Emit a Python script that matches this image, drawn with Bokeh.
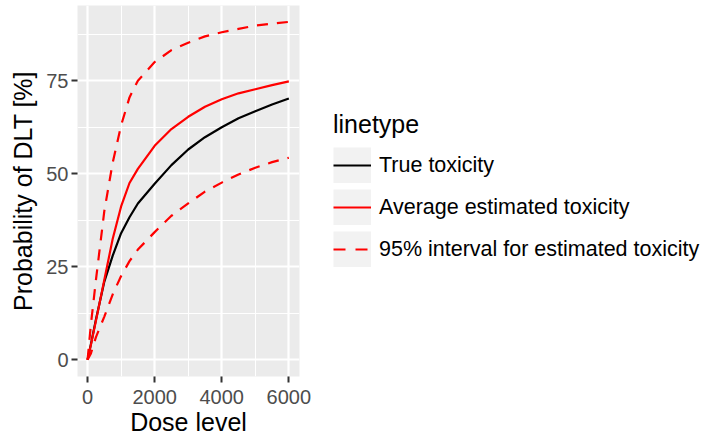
from bokeh.plotting import figure
from bokeh.layouts import row
from bokeh.models import (Legend, LegendItem, FixedTicker, ColumnDataSource, Range1d)
from bokeh.embed import file_html
from bokeh.resources import INLINE

dose = [0, 100, 250, 500, 750, 1000, 1250, 1500, 2000, 2500, 3000, 3500, 4000, 4500, 5000, 5500, 6000]
true_tox = [0, 4.2, 10.8, 21.0, 28.0, 34.0, 38.3, 42.0, 47.3, 52.3, 56.5, 59.8, 62.5, 64.9, 66.8, 68.6, 70.2]
avg_est = [0, 4.0, 10.5, 21.5, 32.5, 41.2, 47.5, 51.3, 57.5, 62.0, 65.3, 68.0, 70.0, 71.6, 72.7, 73.8, 74.8]
upper_95 = [0, 9.5, 21.5, 40.0, 53.0, 63.0, 70.5, 75.0, 80.0, 83.2, 85.2, 86.9, 88.0, 88.9, 89.8, 90.3, 90.8]
lower_95 = [0, 1.7, 6.1, 11.6, 17.6, 22.5, 26.5, 29.6, 34.3, 38.7, 42.0, 45.2, 47.6, 49.8, 51.6, 53.1, 54.3]

x_ticks = [0, 2000, 4000, 6000]
x_minor = [1000, 3000, 5000]
y_ticks = [0, 25, 50, 75]
y_minor = [12.5, 37.5, 62.5, 87.5]

legend_title = "linetype"
labels = ["True toxicity", "Average estimated toxicity", "95% interval for estimated toxicity"]

FONT = "Liberation Sans"
H = 438

p = figure(width=319, height=H, output_backend="svg", toolbar_location=None,
           x_range=Range1d(-300, 6318), y_range=Range1d(-4.5, 95.2),
           min_border_left=77, min_border_right=20, min_border_top=5, min_border_bottom=H - 376)

p.border_fill_color = "white"
p.outline_line_color = None
p.background_fill_color = "#EBEBEB"

p.xaxis.ticker = FixedTicker(ticks=x_ticks, minor_ticks=x_minor)
p.yaxis.ticker = FixedTicker(ticks=y_ticks, minor_ticks=y_minor)

for g in (p.xgrid[0], p.ygrid[0]):
    g.grid_line_color = "white"
    g.grid_line_width = 2.2
    g.minor_grid_line_color = "white"
    g.minor_grid_line_width = 1.1

for ax in (p.xaxis[0], p.yaxis[0]):
    ax.axis_line_color = None
    ax.major_tick_line_color = "#333333"
    ax.major_tick_line_width = 2
    ax.major_tick_out = 6
    ax.major_tick_in = 0
    ax.minor_tick_line_color = None
    ax.major_label_text_font = FONT
    ax.major_label_text_font_size = "20px"
    ax.major_label_text_color = "#4D4D4D"
    ax.axis_label_text_font = FONT
    ax.axis_label_text_font_size = "25px"
    ax.axis_label_text_font_style = "normal"
    ax.axis_label_text_color = "black"

p.xaxis.major_label_standoff = 7
p.yaxis.major_label_standoff = 3
p.xaxis.axis_label = "Dose level"
p.yaxis.axis_label = "Probability of DLT [%]"
p.xaxis.axis_label_standoff = 1
p.yaxis.axis_label_standoff = 6

src = ColumnDataSource(dict(dose=dose, true_tox=true_tox, avg_est=avg_est,
                            upper_95=upper_95, lower_95=lower_95))

p.line("dose", "true_tox", source=src, line_color="black", line_width=2.2)
p.line("dose", "avg_est", source=src, line_color="#FF0000", line_width=2.2)
p.line("dose", "upper_95", source=src, line_color="#FF0000", line_width=2.2, line_dash="11 9")
p.line("dose", "lower_95", source=src, line_color="#FF0000", line_width=2.2, line_dash="11 9")

# legend panel as a separate figure
lg = figure(width=704 - 319, height=H, output_backend="svg", toolbar_location=None,
            x_range=Range1d(0, 1), y_range=Range1d(0, 1),
            min_border_left=0, min_border_right=0, min_border_top=0, min_border_bottom=0)
lg.xaxis.visible = False
lg.yaxis.visible = False
lg.xgrid.visible = False
lg.ygrid.visible = False
lg.outline_line_color = None
lg.background_fill_color = "white"
lg.border_fill_color = "white"

# off-range dummy data so the renderers exist for the legend only
dummy = ColumnDataSource(dict(x=[5, 6], y=[5, 6]))
bgs = [lg.line("x", "y", source=dummy, line_color="#F2F2F2", line_width=36, line_cap="butt") for _ in range(3)]
leg_true = lg.line("x", "y", source=dummy, line_color="black", line_width=2.2)
leg_avg = lg.line("x", "y", source=dummy, line_color="#FF0000", line_width=2.2)
leg_dash = lg.line("x", "y", source=dummy, line_color="#FF0000", line_width=2.2, line_dash="12 10")

items = [
    LegendItem(label=labels[0], renderers=[bgs[0], leg_true]),
    LegendItem(label=labels[1], renderers=[bgs[1], leg_avg]),
    LegendItem(label=labels[2], renderers=[bgs[2], leg_dash]),
]
legend = Legend(items=items, location=(14, 109), title=legend_title)
legend.margin = 0
legend.padding = 0
legend.border_line_color = None
legend.background_fill_alpha = 0
legend.glyph_width = 38
legend.glyph_height = 36
legend.label_standoff = 8
legend.spacing = 6
legend.label_text_font = FONT
legend.label_text_font_size = "21.5px"
legend.label_text_color = "black"
legend.label_height = 36
legend.title_text_font = FONT
legend.title_text_font_size = "25px"
legend.title_text_font_style = "normal"
legend.title_text_color = "black"
legend.title_standoff = 8
lg.add_layout(legend, "center")

layout = row(p, lg, spacing=0)
open("out.html", "w").write(file_html(layout, INLINE))
